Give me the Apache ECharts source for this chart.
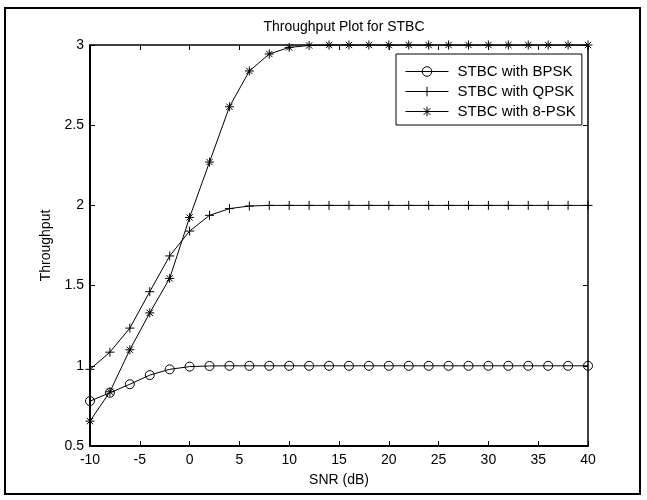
<!DOCTYPE html>
<html>
<head>
<meta charset="utf-8">
<script src="https://cdn.jsdelivr.net/npm/echarts@6/dist/echarts.min.js"></script>
<style>
html,body{margin:0;padding:0;background:#fff;}
#chart{width:647px;height:500px;}
</style>
</head>
<body>
<div id="chart"></div>
<script>
const snr = [-10,-8,-6,-4,-2,0,2,4,6,8,10,12,14,16,18,20,22,24,26,28,30,32,34,36,38,40];
const bpsk = [0.78,0.832,0.885,0.942,0.978,0.995,0.999,1,1,1,1,1,1,1,1,1,1,1,1,1,1,1,1,1,1,1];
const qpsk = [0.978,1.085,1.235,1.462,1.685,1.84,1.938,1.98,1.996,2,2,2,2,2,2,2,2,2,2,2,2,2,2,2,2,2];
const psk8 = [0.655,0.838,1.10,1.33,1.545,1.925,2.27,2.615,2.838,2.944,2.985,2.997,3,3,3,3,3,3,3,3,3,3,3,3,3,3];
const seriesNames = ['STBC with BPSK','STBC with QPSK','STBC with 8-PSK'];
const titleText = 'Throughput Plot for STBC';
const xName = 'SNR (dB)';
const yName = 'Throughput';

const FONT = 'Liberation Sans, Arial, sans-serif';
const pair = arr => snr.map((x,i)=>[x,arr[i]]);
const plusPath = 'path://M0,5L10,5M5,0L5,10';
const starPath = 'path://M0,5L10,5M5,0L5,10M1.5,1.5L8.5,8.5M1.5,8.5L8.5,1.5';

const grid = {left:90, right:59, top:45, bottom:54};
const tickStyle = {show:true, inside:true, length:5, lineStyle:{color:'#000', width:1}};

const chart = echarts.init(document.getElementById('chart'), null, {renderer:'canvas'});
const mk = (name, data, symbol, size) => ({
  name, type:'line', data: pair(data), xAxisIndex:0, yAxisIndex:0,
  symbol, symbolSize:size, showAllSymbol:true,
  lineStyle:{color:'#000', width:1},
  itemStyle:{color: symbol==='circle' ? 'rgba(0,0,0,0)' : '#000', borderColor:'#000', borderWidth:1},
  emphasis:{disabled:true}, animation:false
});

chart.setOption({
  backgroundColor:'#fff',
  animation:false,
  title:{text:titleText, left:339, textAlign:'center', top:15,
    textStyle:{fontFamily:FONT, fontSize:14, fontWeight:'normal', color:'#000'}},
  grid,
  legend:{
    orient:'vertical', left:396, top:54,
    padding:[10,6,6,9], itemGap:5, itemWidth:43, itemHeight:12,
    borderColor:'#000', borderWidth:1, backgroundColor:'#fff',
    lineStyle:{width:1},
    itemStyle:{borderWidth:1},
    textStyle:{fontFamily:FONT, fontSize:15, color:'#000', padding:[0,0,0,4]},
    data:seriesNames
  },
  xAxis:[
    {type:'value', min:-10, max:40, interval:5, position:'bottom',
     name:xName, nameLocation:'middle', nameGap:27,
     nameTextStyle:{fontFamily:FONT, fontSize:14, color:'#000'},
     axisLine:{show:true, onZero:false, lineStyle:{color:'#000', width:2}},
     axisTick:tickStyle,
     axisLabel:{fontFamily:FONT, fontSize:14, color:'#000', margin:7},
     splitLine:{show:false}},
    {type:'value', min:-10, max:40, interval:5, position:'top',
     axisLine:{show:true, onZero:false, lineStyle:{color:'#000', width:1.5}},
     axisTick:tickStyle, axisLabel:{show:false}, splitLine:{show:false}}
  ],
  yAxis:[
    {type:'value', min:0.5, max:3, interval:0.5, position:'left',
     name:yName, nameLocation:'middle', nameGap:35, nameRotate:90,
     nameTextStyle:{fontFamily:FONT, fontSize:14, color:'#000'},
     axisLine:{show:true, onZero:false, lineStyle:{color:'#000', width:2}},
     axisTick:tickStyle,
     axisLabel:{fontFamily:FONT, fontSize:14, color:'#000', margin:6},
     splitLine:{show:false}},
    {type:'value', min:0.5, max:3, interval:0.5, position:'right',
     axisLine:{show:true, onZero:false, lineStyle:{color:'#000', width:1.5}},
     axisTick:tickStyle, axisLabel:{show:false}, splitLine:{show:false}}
  ],
  graphic:[
    {type:'rect', shape:{x:5, y:8, width:635, height:486},
     style:{fill:null, stroke:'#000', lineWidth:2}, silent:true, z:-1}
  ],
  series:[
    mk(seriesNames[0], bpsk, 'circle', 9),
    mk(seriesNames[1], qpsk, plusPath, 9),
    mk(seriesNames[2], psk8, starPath, 9)
  ]
});
</script>
</body>
</html>
